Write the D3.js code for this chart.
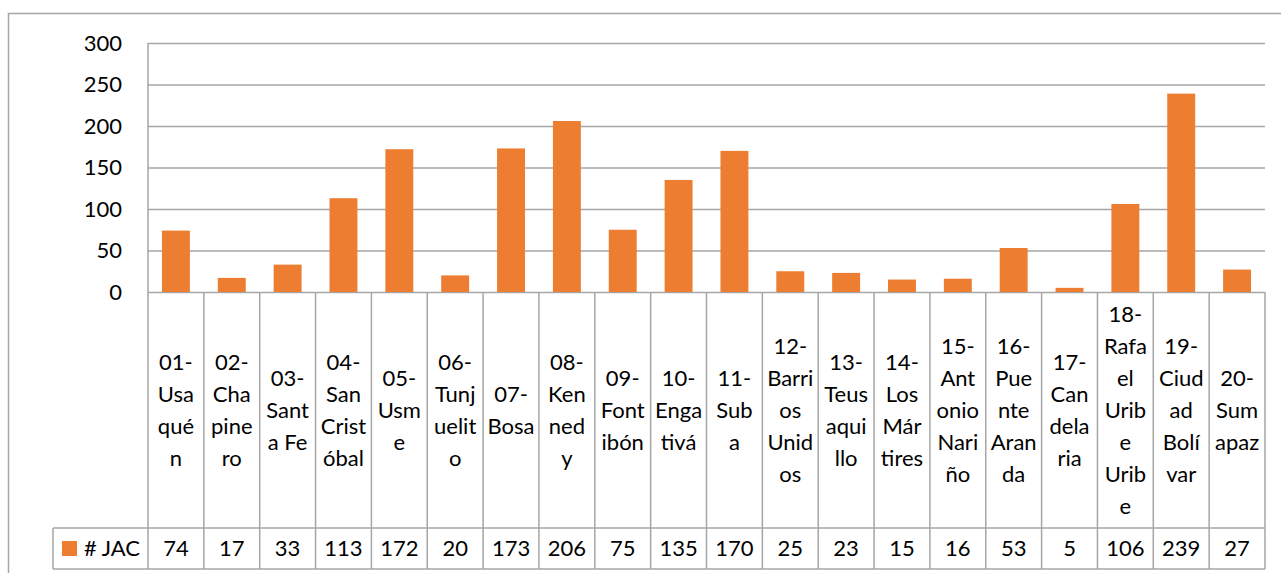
<!DOCTYPE html>
<html>
<head>
<meta charset="utf-8">
<script src="https://cdn.jsdelivr.net/npm/d3@7"></script>
<style>
  body { margin: 0; background: #fff; }
  svg { display: block; font-family: Lato, "Open Sans", sans-serif; }
</style>
</head>
<body>
<svg id="chart" width="1281" height="573"></svg>
<script>
// datos
const categories = ["01-Usaquén", "02-Chapinero", "03-Santa Fe", "04-San Cristóbal", "05-Usme",
  "06-Tunjuelito", "07-Bosa", "08-Kennedy", "09-Fontibón", "10-Engativá", "11-Suba",
  "12-Barrios Unidos", "13-Teusaquillo", "14-Los Mártires", "15-Antonio Nariño",
  "16-Puente Aranda", "17-Candelaria", "18-Rafael Uribe Uribe", "19-Ciudad Bolívar", "20-Sumapaz"];
// etiquetas partidas como en la tabla de Excel
const labelLines = [
  ["01-", "Usa", "qué", "n"], ["02-", "Cha", "pine", "ro"], ["03-", "Sant", "a Fe"],
  ["04-", "San", "Crist", "óbal"], ["05-", "Usm", "e"], ["06-", "Tunj", "uelit", "o"],
  ["07-", "Bosa"], ["08-", "Ken", "ned", "y"], ["09-", "Font", "ibón"], ["10-", "Enga", "tivá"],
  ["11-", "Sub", "a"], ["12-", "Barri", "os", "Unid", "os"], ["13-", "Teus", "aqui", "llo"],
  ["14-", "Los", "Már", "tires"], ["15-", "Ant", "onio", "Nari", "ño"], ["16-", "Pue", "nte", "Aran", "da"],
  ["17-", "Can", "dela", "ria"], ["18-", "Rafa", "el", "Urib", "e", "Urib", "e"],
  ["19-", "Ciud", "ad", "Bolí", "var"], ["20-", "Sum", "apaz"]
];
const jac = [74, 17, 33, 113, 172, 20, 173, 206, 75, 135, 170, 25, 23, 15, 16, 53, 5, 106, 239, 27];
const seriesName = "# JAC";
const yTicks = [0, 50, 100, 150, 200, 250, 300];

const svg = d3.select("#chart");
const gridColor = "#a6a6a6";
const barColor = "#ed7d31";
const fontSize = 22;

const plotLeft = 148, plotRight = 1265, plotTop = 43, plotBase = 292;
const labelBottom = 528, tableBottom = 569, keyLeft = 53;

const x = d3.scaleBand().domain(categories).range([plotLeft, plotRight]).padding(0);
const y = d3.scaleLinear().domain([0, 300]).range([plotBase, plotTop]);

// borde del gráfico
svg.append("path")
  .attr("d", "M8.5,573 V13.5 H1281")
  .attr("fill", "none").attr("stroke", gridColor).attr("stroke-width", 1.5);

// líneas de cuadrícula
svg.append("g")
  .attr("transform", `translate(${plotLeft},0)`)
  .call(d3.axisLeft(y).tickValues(yTicks).tickSize(-(plotRight - plotLeft)).tickFormat(""))
  .call(g => g.select(".domain").remove())
  .call(g => g.selectAll("line").attr("stroke", gridColor).attr("stroke-width", 1.5));

// eje vertical
svg.append("line")
  .attr("x1", plotLeft).attr("x2", plotLeft).attr("y1", plotTop).attr("y2", tableBottom)
  .attr("stroke", gridColor).attr("stroke-width", 1.5);

// etiquetas del eje y
svg.append("g")
  .attr("transform", `translate(${plotLeft - 26},0)`)
  .call(d3.axisLeft(y).tickValues(yTicks).tickSize(0).tickPadding(0))
  .call(g => g.select(".domain").remove())
  .call(g => g.selectAll("text").attr("font-size", fontSize).attr("fill", "#000")
    .attr("font-family", "Lato, 'Open Sans', sans-serif"));

// barras
const bw = x.bandwidth() * 0.5;
svg.append("g").selectAll("rect")
  .data(jac)
  .join("rect")
  .attr("x", (d, i) => x(categories[i]) + (x.bandwidth() - bw) / 2)
  .attr("y", d => y(d))
  .attr("width", bw)
  .attr("height", d => y(0) - y(d))
  .attr("fill", barColor);

// tabla de datos: líneas
const tbl = svg.append("g").attr("stroke", gridColor).attr("stroke-width", 1.5);
categories.forEach(c => {
  tbl.append("line").attr("x1", x(c) + x.bandwidth()).attr("x2", x(c) + x.bandwidth())
    .attr("y1", plotBase).attr("y2", tableBottom);
});
tbl.append("line").attr("x1", keyLeft).attr("x2", plotRight).attr("y1", labelBottom).attr("y2", labelBottom);
tbl.append("line").attr("x1", keyLeft).attr("x2", plotRight).attr("y1", tableBottom).attr("y2", tableBottom);
tbl.append("line").attr("x1", keyLeft).attr("x2", keyLeft).attr("y1", labelBottom).attr("y2", tableBottom);

// etiquetas de categoría
const lineH = 32;
const midLabel = (plotBase + labelBottom) / 2;
const cat = svg.append("g").attr("font-size", fontSize).attr("fill", "#000").attr("text-anchor", "middle");
labelLines.forEach((lines, i) => {
  const cx = x(categories[i]) + x.bandwidth() / 2;
  const t = cat.append("text").attr("x", cx)
    .attr("y", midLabel - (lines.length - 1) * lineH / 2);
  lines.forEach((l, j) => {
    t.append("tspan").attr("x", cx).attr("dy", j === 0 ? "0.35em" : lineH).text(l);
  });
});

// valores
const rowMid = (labelBottom + tableBottom) / 2;
svg.append("g").attr("font-size", fontSize).attr("fill", "#000").attr("text-anchor", "middle")
  .selectAll("text").data(jac).join("text")
  .attr("x", (d, i) => x(categories[i]) + x.bandwidth() / 2)
  .attr("y", rowMid).attr("dy", "0.35em")
  .text(d => d);

// clave de leyenda
svg.append("rect").attr("x", 62).attr("y", rowMid - 7.5).attr("width", 15).attr("height", 15).attr("fill", barColor);
svg.append("text").attr("x", 84).attr("y", rowMid).attr("dy", "0.35em")
  .attr("font-size", fontSize).attr("fill", "#000").text(seriesName);
</script>
</body>
</html>
